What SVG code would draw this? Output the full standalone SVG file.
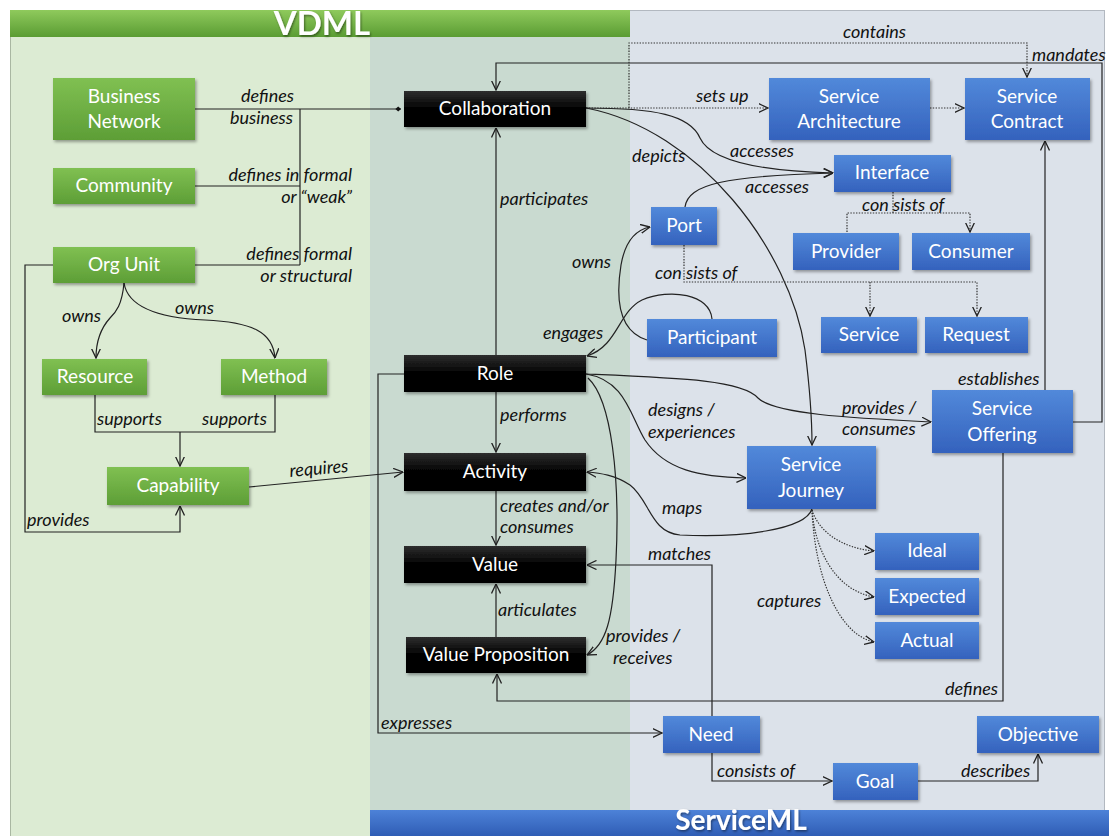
<svg xmlns="http://www.w3.org/2000/svg" width="1109" height="836" viewBox="0 0 1109 836">
  <defs>
    <linearGradient id="gGreen" x1="0" y1="0" x2="0" y2="1">
      <stop offset="0" stop-color="#80c052"/>
      <stop offset="1" stop-color="#5d9e36"/>
    </linearGradient>
    <linearGradient id="gBlue" x1="0" y1="0" x2="0" y2="1">
      <stop offset="0" stop-color="#5289da"/>
      <stop offset="1" stop-color="#3462bd"/>
    </linearGradient>
    <linearGradient id="gBlack" x1="0" y1="0" x2="0" y2="1">
      <stop offset="0" stop-color="#2e2e2e"/>
      <stop offset="0.45" stop-color="#050505"/>
      <stop offset="1" stop-color="#000"/>
    </linearGradient>
    <linearGradient id="gHead" x1="0" y1="0" x2="0" y2="1">
      <stop offset="0" stop-color="#8fca5c"/>
      <stop offset="1" stop-color="#5a9c33"/>
    </linearGradient>
    <linearGradient id="gFoot" x1="0" y1="0" x2="0" y2="1">
      <stop offset="0" stop-color="#4d82d8"/>
      <stop offset="1" stop-color="#2f5db5"/>
    </linearGradient>
    <filter id="shadow" x="-10%" y="-20%" width="125%" height="150%">
      <feDropShadow dx="1.5" dy="2" stdDeviation="1.5" flood-color="#000" flood-opacity="0.35"/>
    </filter>
    <filter id="tshadow" x="-10%" y="-20%" width="120%" height="150%">
      <feDropShadow dx="1" dy="1.5" stdDeviation="1" flood-color="#000" flood-opacity="0.45"/>
    </filter>
    <marker id="arr" viewBox="0 0 10 10" refX="9.5" refY="5" markerWidth="10" markerHeight="10" orient="auto" markerUnits="userSpaceOnUse">
      <path d="M0,0.5 L9.5,5 L0,9.5" fill="none" stroke="#222" stroke-width="1.3"/>
    </marker>
    <marker id="dia" viewBox="0 0 10 10" refX="9" refY="5" markerWidth="7" markerHeight="7" orient="auto" markerUnits="userSpaceOnUse">
      <path d="M1,5 L5,1.5 L9,5 L5,8.5 Z" fill="#111"/>
    </marker>
  </defs>
  <style>
    .n rect { filter: url(#shadow); }
    .g rect { fill: url(#gGreen); }
    .b rect { fill: url(#gBlue); }
    .k rect { fill: url(#gBlack); }
    .n text { font-family: Lato, "Open Sans", "Liberation Sans", sans-serif; font-size: 19px; fill: #fff; text-anchor: middle; }
    .lbl { font-family: Lato, "Open Sans", "Liberation Sans", sans-serif; font-size: 18px; font-style: italic; fill: #111; }
    .c path, .c line, .c polyline { fill: none; stroke: #222; stroke-width: 1.2; }
    .c .d { stroke-dasharray: 1.4 1.4; stroke: #333; }
    .c .a { marker-end: url(#arr); }
    .title { font-family: Lato, "Open Sans", "Liberation Sans", sans-serif; font-weight: bold; font-size: 33px; fill: #fff; filter: url(#tshadow); }
  </style>

  <!-- panels -->
  <rect x="0" y="0" width="1109" height="836" fill="#ffffff"/>
  <rect x="10" y="10" width="360" height="826" fill="#dcebd3"/>
  <line x1="10.5" y1="10" x2="10.5" y2="836" stroke="#a9b7a2" stroke-width="1"/>
  <rect x="370" y="10" width="260" height="800" fill="#c9dad0"/>
  <rect x="630" y="10" width="475" height="800" fill="#dce2ea"/>
  <line x1="630" y1="10.5" x2="1105" y2="10.5" stroke="#b2b8c0" stroke-width="1"/>
  <line x1="1104.5" y1="10" x2="1104.5" y2="810" stroke="#b2b8c0" stroke-width="1"/>
  <rect x="10" y="10" width="620" height="27" fill="url(#gHead)"/>
  <text class="title" x="322" y="35" text-anchor="middle">VDML</text>
  <rect x="370" y="810" width="739" height="26" fill="url(#gFoot)"/>
  <text class="title" x="741" y="830" text-anchor="middle" style="font-size:28px">ServiceML</text>

  <!-- connectors -->
  <g id="connectors" class="c">
    <!-- business network / community / org unit define collaboration -->
    <line x1="195" y1="109" x2="401" y2="109" style="marker-end:url(#dia)"/>
    <line x1="300" y1="109" x2="300" y2="265"/>
    <line x1="195" y1="186" x2="300" y2="186"/>
    <line x1="195" y1="265" x2="300" y2="265"/>
    <!-- org unit provides capability -->
    <polyline class="a" points="53,265 25,265 25,532 180,532 180,506"/>
    <!-- org unit owns resource / method -->
    <path class="a" d="M124,283 C122,305 116,312 110,318 C101,328 96,340 96,358"/>
    <path class="a" d="M124,283 C128,308 160,318 205,320 C252,322 273,332 275,358"/>
    <!-- resource / method support capability -->
    <polyline points="95,395 95,432 275,432 275,395"/>
    <line class="a" x1="180" y1="432" x2="180" y2="466"/>
    <!-- capability requires activity -->
    <line class="a" x1="249" y1="487" x2="403" y2="472"/>
    <!-- role participates in collaboration -->
    <line class="a" x1="496" y1="355" x2="496" y2="128"/>
    <!-- service offering mandates collaboration -->
    <polyline class="a" points="1073,422 1102,422 1102,63 496,63 496,90"/>
    <!-- collaboration contains service contract -->
    <polyline class="d a" points="629,108 629,43 1027,43 1027,77"/>
    <!-- collaboration sets up service architecture -->
    <line class="d a" x1="586" y1="108" x2="768" y2="108"/>
    <line class="d a" x1="930" y1="108" x2="964" y2="108"/>
    <!-- service offering establishes service contract -->
    <line class="a" x1="1045" y1="390" x2="1045" y2="141"/>
    <!-- accesses -->
    <path class="a" d="M586,108 C655,108 690,115 700,138 C710,160 755,171 833,173"/>
    <path class="a" d="M685,207 C688,184 725,176 833,173"/>
    <!-- collaboration depicts service journey -->
    <path class="a" d="M586,108 C700,130 790,250 805,350 C810,390 812,420 812,445"/>
    <!-- interface consists of provider / consumer -->
    <polyline class="d" points="893,192 893,213"/>
    <polyline class="d a" points="847,232 847,213 970,213 970,232"/>
    <!-- port consists of service / request -->
    <polyline class="d a" points="684,245 684,282 977,282 977,316"/>
    <line class="d a" x1="870" y1="282" x2="870" y2="316"/>
    <!-- participant owns port -->
    <path class="a" d="M647,340 C615,330 617,290 621,265 C625,242 635,230 650,227"/>
    <!-- participant engages role -->
    <path class="a" d="M712,319 C710,294 670,288 642,300 C618,312 618,346 587,356"/>
    <!-- role designs / experiences service journey -->
    <path class="a" d="M586,374 C625,380 630,415 645,440 C665,470 700,477 746,478"/>
    <!-- role provides / consumes service offering -->
    <path class="a" d="M586,374 C680,378 742,380 758,398 C774,414 850,418 931,422"/>
    <!-- role performs activity -->
    <line class="a" x1="496" y1="392" x2="496" y2="452"/>
    <!-- activity creates and/or consumes value -->
    <line class="a" x1="496" y1="491" x2="496" y2="545"/>
    <!-- value proposition articulates value -->
    <line class="a" x1="496" y1="637" x2="496" y2="584"/>
    <!-- role provides / receives value proposition -->
    <path class="a" d="M588,378 C612,400 620,480 616,560 C613,620 606,645 587,655"/>
    <!-- role expresses need -->
    <polyline class="a" points="404,374 378,374 378,733 662,733"/>
    <!-- service journey maps activity -->
    <path class="a" d="M812,509 C805,530 740,538 680,535 C650,532 650,500 630,485 C615,475 600,473 587,472"/>
    <!-- need matches value -->
    <polyline class="a" points="712,716 712,565 587,565"/>
    <!-- service offering defines value proposition -->
    <polyline class="a" points="1003,453 1003,701 497,701 497,674"/>
    <!-- service journey captures ideal / expected / actual -->
    <path class="d a" d="M812,510 C818,530 840,548 874,551"/>
    <path class="d a" d="M812,510 C815,550 835,590 874,597"/>
    <path class="d a" d="M812,510 C815,580 840,635 874,642"/>
    <!-- need consists of goal -->
    <polyline class="a" points="712,753 712,781 832,781"/>
    <!-- goal describes objective -->
    <polyline class="a" points="918,781 1038,781 1038,754"/>
  </g>

  <!-- connector labels -->
  <g id="labels">
    <text class="lbl" x="241" y="102">defines</text>
    <text class="lbl" x="230" y="124">business</text>
    <text class="lbl" x="352" y="181" text-anchor="end">defines in formal</text>
    <text class="lbl" x="352" y="203" text-anchor="end">or “weak”</text>
    <text class="lbl" x="352" y="260" text-anchor="end">defines formal</text>
    <text class="lbl" x="352" y="282" text-anchor="end">or structural</text>
    <text class="lbl" x="62" y="322">owns</text>
    <text class="lbl" x="175" y="314">owns</text>
    <text class="lbl" x="97" y="425">supports</text>
    <text class="lbl" x="202" y="425">supports</text>
    <text class="lbl" x="27" y="526">provides</text>
    <text class="lbl" x="290" y="477" transform="rotate(-5 290 477)">requires</text>
    <text class="lbl" x="500" y="205">participates</text>
    <text class="lbl" x="843" y="38">contains</text>
    <text class="lbl" x="1032" y="61">mandates</text>
    <text class="lbl" x="696" y="102">sets up</text>
    <text class="lbl" x="632" y="162">depicts</text>
    <text class="lbl" x="730" y="157">accesses</text>
    <text class="lbl" x="745" y="193">accesses</text>
    <text class="lbl" x="862" y="211">con sists of</text>
    <text class="lbl" x="572" y="268">owns</text>
    <text class="lbl" x="655" y="279">con sists of</text>
    <text class="lbl" x="543" y="339">engages</text>
    <text class="lbl" x="958" y="385">establishes</text>
    <text class="lbl" x="500" y="421">performs</text>
    <text class="lbl" x="648" y="416">designs /</text>
    <text class="lbl" x="648" y="438">experiences</text>
    <text class="lbl" x="842" y="414">provides /</text>
    <text class="lbl" x="842" y="435">consumes</text>
    <text class="lbl" x="500" y="512">creates and/or</text>
    <text class="lbl" x="500" y="533">consumes</text>
    <text class="lbl" x="662" y="514">maps</text>
    <text class="lbl" x="648" y="560">matches</text>
    <text class="lbl" x="757" y="607">captures</text>
    <text class="lbl" x="498" y="616">articulates</text>
    <text class="lbl" x="606" y="642">provides /</text>
    <text class="lbl" x="613" y="664">receives</text>
    <text class="lbl" x="945" y="695">defines</text>
    <text class="lbl" x="381" y="729">expresses</text>
    <text class="lbl" x="717" y="777">consists of</text>
    <text class="lbl" x="961" y="777">describes</text>
  </g>

  <!-- VDML nodes -->
  <g id="business-network" class="n g"><rect x="53" y="78" width="142" height="62"/><text x="124" y="103">Business</text><text x="124" y="128">Network</text></g>
  <g id="community" class="n g"><rect x="53" y="168" width="142" height="36"/><text x="124" y="192">Community</text></g>
  <g id="org-unit" class="n g"><rect x="53" y="247" width="142" height="36"/><text x="124" y="271">Org Unit</text></g>
  <g id="resource" class="n g"><rect x="42" y="359" width="105" height="36"/><text x="95" y="383">Resource</text></g>
  <g id="method" class="n g"><rect x="221" y="359" width="106" height="36"/><text x="274" y="383">Method</text></g>
  <g id="capability" class="n g"><rect x="107" y="467" width="142" height="38"/><text x="178" y="492">Capability</text></g>

  <g id="collaboration" class="n k"><rect x="404" y="91" width="182" height="36"/><text x="495" y="115">Collaboration</text></g>
  <g id="role" class="n k"><rect x="404" y="355" width="182" height="37"/><text x="495" y="380">Role</text></g>
  <g id="activity" class="n k"><rect x="404" y="453" width="182" height="38"/><text x="495" y="478">Activity</text></g>
  <g id="value" class="n k"><rect x="404" y="546" width="182" height="37"/><text x="495" y="571">Value</text></g>
  <g id="value-proposition" class="n k"><rect x="406" y="637" width="180" height="36"/><text x="496" y="661">Value Proposition</text></g>

  <!-- ServiceML nodes -->
  <g id="service-architecture" class="n b"><rect x="769" y="78" width="161" height="62"/><text x="849" y="103">Service</text><text x="849" y="128">Architecture</text></g>
  <g id="service-contract" class="n b"><rect x="965" y="78" width="125" height="62"/><text x="1027" y="103">Service</text><text x="1027" y="128">Contract</text></g>
  <g id="interface" class="n b"><rect x="834" y="155" width="117" height="37"/><text x="892" y="179">Interface</text></g>
  <g id="provider" class="n b"><rect x="793" y="233" width="106" height="37"/><text x="846" y="258">Provider</text></g>
  <g id="consumer" class="n b"><rect x="912" y="233" width="118" height="37"/><text x="971" y="258">Consumer</text></g>
  <g id="port" class="n b"><rect x="651" y="207" width="66" height="38"/><text x="684" y="232">Port</text></g>
  <g id="participant" class="n b"><rect x="647" y="319" width="130" height="38"/><text x="712" y="344">Participant</text></g>
  <g id="service" class="n b"><rect x="821" y="317" width="96" height="36"/><text x="869" y="341">Service</text></g>
  <g id="request" class="n b"><rect x="925" y="317" width="103" height="36"/><text x="976" y="341">Request</text></g>
  <g id="service-offering" class="n b"><rect x="932" y="390" width="141" height="63"/><text x="1002" y="415">Service</text><text x="1002" y="441">Offering</text></g>
  <g id="service-journey" class="n b"><rect x="747" y="446" width="129" height="63"/><text x="811" y="471">Service</text><text x="811" y="497">Journey</text></g>
  <g id="ideal" class="n b"><rect x="875" y="533" width="104" height="37"/><text x="927" y="557">Ideal</text></g>
  <g id="expected" class="n b"><rect x="875" y="578" width="104" height="37"/><text x="927" y="603">Expected</text></g>
  <g id="actual" class="n b"><rect x="875" y="622" width="104" height="37"/><text x="927" y="647">Actual</text></g>
  <g id="need" class="n b"><rect x="663" y="716" width="97" height="37"/><text x="711" y="741">Need</text></g>
  <g id="goal" class="n b"><rect x="833" y="763" width="85" height="37"/><text x="875" y="788">Goal</text></g>
  <g id="objective" class="n b"><rect x="977" y="716" width="122" height="37"/><text x="1038" y="741">Objective</text></g>
</svg>
